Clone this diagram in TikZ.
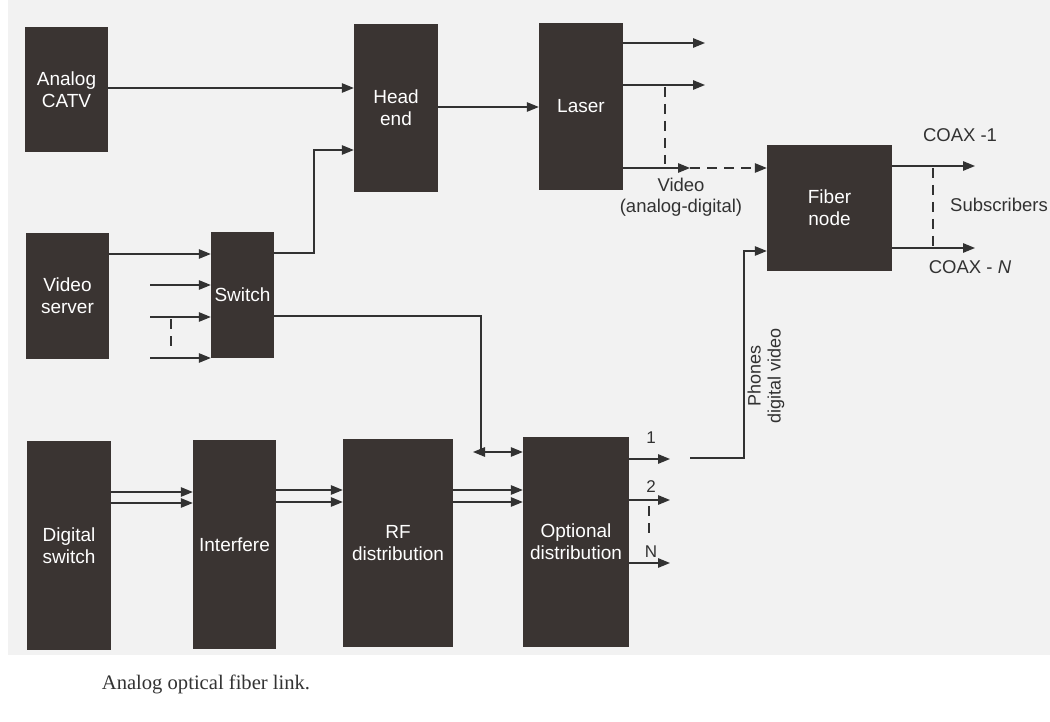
\documentclass[tikz,border=0pt]{standalone}
\usepackage{fontspec}
\setsansfont{Liberation Sans}
\setmainfont{Liberation Serif}
\usetikzlibrary{arrows.meta,calc}
\definecolor{boxc}{RGB}{58,52,50}
\definecolor{linec}{RGB}{50,50,50}
\definecolor{pagec}{RGB}{242,242,242}
\begin{document}
\begin{tikzpicture}[x=1pt,y=-1pt,
 blk/.style={fill=boxc, draw=none, inner sep=0pt, text=white, align=center, font=\fontsize{19}{22}\selectfont\sffamily},
 arr/.style={draw=linec, line width=1.3pt, -{Triangle[length=12pt,width=9.5pt]}},
 barr/.style={draw=linec, line width=1.3pt, {Triangle[length=12pt,width=9.5pt]}-{Triangle[length=12pt,width=9.5pt]}},
 ln/.style={draw=linec, line width=1.3pt},
 dsh/.style={draw=linec, line width=1.3pt, dash pattern=on 10pt off 7pt},
 lbl/.style={text=linec, font=\fontsize{18.5}{21}\selectfont\sffamily, align=center, inner sep=0pt}]

\useasboundingbox (0,0) rectangle (1050,722);
\fill[white] (0,0) rectangle (1050,722);
\fill[pagec] (8,0) rectangle (1050,655);

% blocks
\node[blk, minimum width=83pt, minimum height=125pt] (catv) at (66.5,89.5) {Analog\\CATV};
\node[blk, minimum width=83pt, minimum height=126pt] (vserv) at (67.5,296) {Video\\server};
\node[blk, minimum width=63pt, minimum height=126pt] (switch) at (242.5,295) {Switch};
\node[blk, minimum width=84pt, minimum height=168pt] (head) at (396,108) {Head\\end};
\node[blk, minimum width=84pt, minimum height=167pt] (laser) at (581,106.5) {Laser};
\node[blk, minimum width=125pt, minimum height=126pt] (fiber) at (829.5,208) {Fiber\\node};
\node[blk, minimum width=84pt, minimum height=209pt] (dsw) at (69,545.5) {Digital\\switch};
\node[blk, minimum width=83pt, minimum height=209pt] (interf) at (234.5,544.5) {Interfere};
\node[blk, minimum width=110pt, minimum height=208pt] (rf) at (398,543) {RF\\distribution};
\node[blk, minimum width=106pt, minimum height=210pt] (opt) at (576,542) {Optional\\distribution};

% free ends
\coordinate (sw2) at (150,285);
\coordinate (sw3) at (150,317);
\coordinate (sw4) at (150,358);
\coordinate (lo1) at (705,43);
\coordinate (lo2) at (705,85);
\coordinate (lo3) at (690,168);
\coordinate (co1) at (975,166);
\coordinate (co2) at (975,248);
\coordinate (ph) at (690,458);
\coordinate (oo1) at (670,459);
\coordinate (oo2) at (670,500);
\coordinate (oo3) at (670,563);
\coordinate (bi) at (473,452);

% top row
\draw[arr] (catv.east |- 0,88) -- (head.west |- 0,88);
\draw[arr] (vserv.east |- 0,254) -- (switch.west |- 0,254);
\draw[arr] (sw2) -- (switch.west |- sw2);
\draw[arr] (sw3) -- (switch.west |- sw3);
\draw[arr] (sw4) -- (switch.west |- sw4);
\draw[dsh] (171,319) -- (171,352);
\draw[arr] (switch.east |- 0,253) -- (314,253) -- (314,150) -- (head.west |- 0,150);
\draw[arr] (head.east |- 0,107) -- (laser.west |- 0,107);
\draw[arr] (laser.east |- lo1) -- (lo1);
\draw[arr] (laser.east |- lo2) -- (lo2);
\draw[arr] (laser.east |- lo3) -- (lo3);
\draw[dsh] (665,87) -- (665,164);
\draw[arr, dash pattern=on 10pt off 7pt] (lo3) -- (fiber.west |- lo3);
\node[lbl] (vid) at (681,197) {Video\\(analog-digital)};

\draw[arr] (fiber.east |- co1) -- (co1);
\draw[arr] (fiber.east |- co2) -- (co2);
\draw[dsh] (933,168) -- (933,246);
\node[lbl] (c1) at (960,135) {COAX -1};
\node[lbl] (cn) at (970,267) {COAX - \textit{N}};
\node[lbl] (subs) at (999,205) {Subscribers};

\draw[arr] (ph) -- (744,458) -- (744,251) -- (fiber.west |- 0,251);
\node[lbl, rotate=90, font=\fontsize{18}{20}\selectfont\sffamily] (phl) at (766,376) {Phones\\digital video};

% switch to optional distribution
\draw[ln] (switch.east |- 0,316) -- (481,316) -- (481,452);
\draw[barr] (bi) -- (opt.west |- bi);

% bottom row
\draw[arr] (dsw.east |- 0,492) -- (interf.west |- 0,492);
\draw[arr] (dsw.east |- 0,503) -- (interf.west |- 0,503);
\draw[arr] (interf.east |- 0,490) -- (rf.west |- 0,490);
\draw[arr] (interf.east |- 0,502) -- (rf.west |- 0,502);
\draw[arr] (rf.east |- 0,490) -- (opt.west |- 0,490);
\draw[arr] (rf.east |- 0,502) -- (opt.west |- 0,502);

\draw[arr] (opt.east |- oo1) -- (oo1);
\draw[arr] (opt.east |- oo2) -- (oo2);
\draw[arr] (opt.east |- oo3) -- (oo3);
\draw[dsh] (649,506) -- (649,538);
\node[lbl, font=\fontsize{17}{19}\selectfont\sffamily] (n1) at (651,438) {1};
\node[lbl, font=\fontsize{17}{19}\selectfont\sffamily] (n2) at (651,487) {2};
\node[lbl, font=\fontsize{17}{19}\selectfont\sffamily] (nn) at (651,552) {N};

% caption
\node[inner sep=0pt, text=black!80, font=\fontsize{20.6}{24}\selectfont\rmfamily] (cap) at (206,684) {Analog optical fiber link.};
\end{tikzpicture}
\end{document}
